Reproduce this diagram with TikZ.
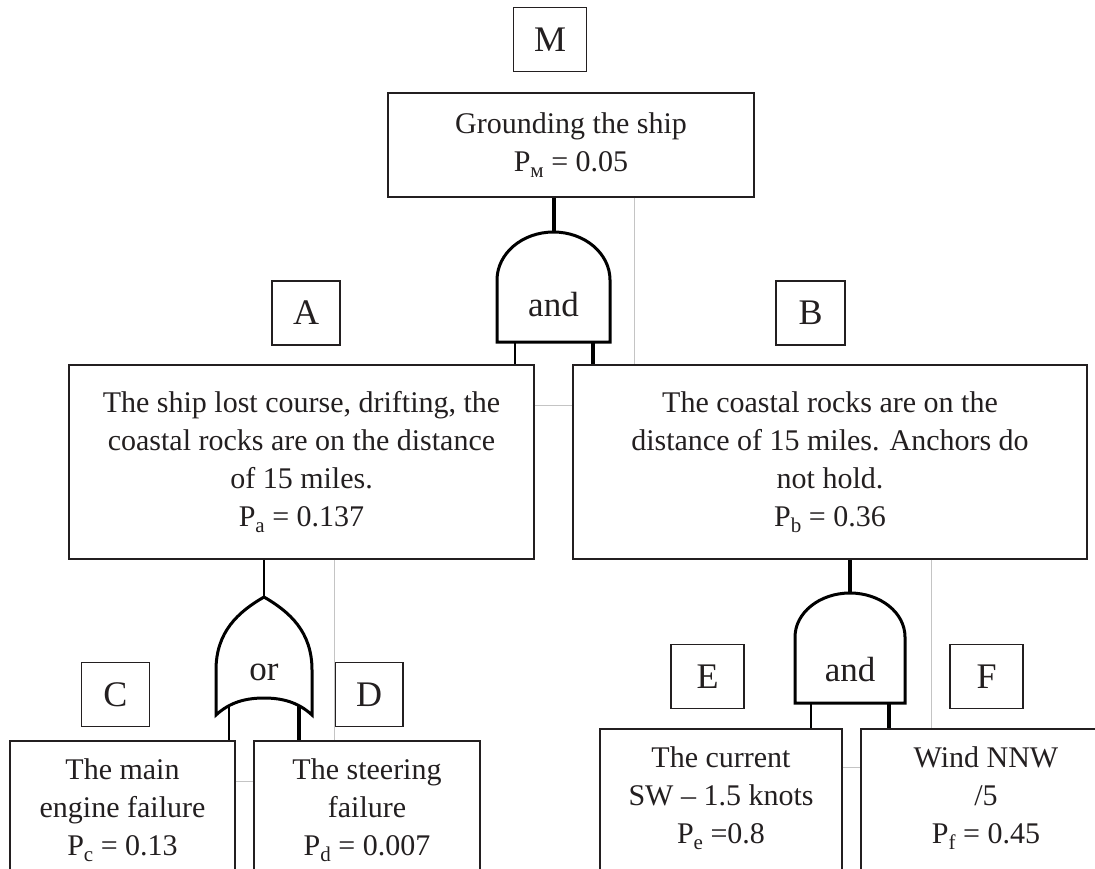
\documentclass[tikz,border=0pt]{standalone}
\usepackage{fontspec}
\setmainfont{Liberation Serif}
\usetikzlibrary{positioning}
\definecolor{inkgray}{HTML}{231F20}
\definecolor{linkgray}{HTML}{C4C4C4}
\newcommand{\evsub}[1]{\raisebox{-0.22em}{\fontsize{10.5}{12}\selectfont #1}}

\begin{document}
\begin{tikzpicture}[x=0.5pt, y=-0.5pt,
  every node/.style={text=inkgray, font=\fontsize{15}{19}\selectfont},
  tag/.style={draw=inkgray, line width=0.75pt, minimum width=#1, minimum height=32pt, inner sep=0pt, font=\fontsize{18}{20}\selectfont},
  event/.style={draw=inkgray, line width=0.75pt, inner sep=0pt, align=center},
  evtext/.style={inner sep=0pt, align=center},
  gatelabel/.style={font=\fontsize{17.5}{20}\selectfont, inner sep=0pt},
  gate/.style={draw=black, line width=1.5pt},
  stem/.style={draw=black, line width=2pt},
  leg/.style={draw=black, line width=0.75pt},
  link/.style={draw=linkgray, line width=0.5pt}]
\useasboundingbox (0,0) rectangle (1095,868);
\clip (0,0) rectangle (1095,868);

\node[tag=36.5pt] (tagM) at (550,39.5) {M};
\node[event, minimum width=183pt, minimum height=52pt] (evM) at (571,145) {Grounding the ship\\P\evsub{м} = 0.05};

\node[tag=34pt] (tagA) at (306,313) {A};
\node[tag=34.5pt] (tagB) at (810.5,313) {B};
\node[event, minimum width=232.5pt, minimum height=97pt] (evA) at (301.5,462)
  {The ship lost course, drifting, the\\coastal rocks are on the distance\\of 15 miles.\\P\evsub{a} = 0.137};
\node[event, minimum width=257pt, minimum height=97pt] (evB) at (830,462)
  {The coastal rocks are on the\\distance of 15 miles. Anchors do\\not hold.\\P\evsub{b} = 0.36};

\node[tag=34pt] (tagC) at (115.5,694.5) {C};
\node[tag=34pt] (tagD) at (369,694.5) {D};
\node[tag=36.5pt] (tagE) at (707.5,676.5) {E};
\node[tag=36.5pt] (tagF) at (986.5,676.5) {F};

\node[event, minimum width=112.5pt, minimum height=80pt, anchor=north] (evC) at (122.5,740) {};
\node[event, minimum width=113pt, minimum height=80pt, anchor=north] (evD) at (367,740) {};
\node[event, minimum width=121pt, minimum height=80pt, anchor=north] (evE) at (721,728) {};
\node[event, minimum width=125pt, minimum height=80pt, anchor=north] (evF) at (986,728) {};
\node[evtext, below=9pt of evC.north] (txC) {The main\\engine failure\\P\evsub{c} = 0.13};
\node[evtext, below=9pt of evD.north] (txD) {The steering\\failure\\P\evsub{d} = 0.007};
\node[evtext, below=9pt of evE.north] (txE) {The current\\SW -- 1.5 knots\\P\evsub{e} =0.8};
\node[evtext, below=9pt of evF.north] (txF) {Wind NNW\\/5\\P\evsub{f} = 0.45};

\coordinate (g1) at (553.5,232);
\coordinate (g1l) at (515,342);
\coordinate (g1r) at (593,342);
\draw[gate] (497,342) -- (497,280) arc[start angle=180, end angle=0, x radius=28.25pt, y radius=24pt] -- (610,342) -- cycle;
\node[gatelabel] (andM) at (553.5,305) {and};
\draw[stem] (evM.south -| g1) -- (g1);
\draw[leg] (g1l) -- (evA.north -| g1l);
\draw[stem] (g1r) -- (evB.north -| g1r);

\coordinate (g2) at (264,597);
\coordinate (g2l) at (229,706);
\coordinate (g2r) at (299,706);
\draw[gate] (216,715) -- (216,670) .. controls (216,632) and (238,612) .. (264,597)
  .. controls (290,612) and (312,632) .. (312,670) -- (312,715)
  .. controls (298,702) and (282,698) .. (264,698) .. controls (246,698) and (230,702) .. (216,715) -- cycle;
\node[gatelabel] (orA) at (264,672) {or};
\draw[leg] (evA.south -| g2) -- (g2);
\draw[leg] (g2l) -- (evC.north -| g2l);
\draw[stem] (g2r) -- (evD.north -| g2r);

\coordinate (g3) at (850,593);
\coordinate (g3l) at (811,703);
\coordinate (g3r) at (889,703);
\draw[gate] (795,703) -- (795,637) arc[start angle=180, end angle=0, x radius=27.5pt, y radius=22pt] -- (905,703) -- cycle;
\node[gatelabel] (andB) at (850,670) {and};
\draw[stem] (evB.south -| g3) -- (g3);
\draw[leg] (g3l) -- (evE.north -| g3l);
\draw[stem] (g3r) -- (evF.north -| g3r);

\coordinate (k1) at (634,0);
\coordinate (k2) at (334,0);
\coordinate (k3) at (931,0);
\draw[link] (evM.south -| k1) -- (evB.north -| k1);
\draw[link] ([yshift=-20.5pt]evA.north east) -- ([yshift=-20.5pt]evB.north west);
\draw[link] (evA.south -| k2) -- (evD.north -| k2);
\draw[link] ([yshift=-20.5pt]evC.north east) -- ([yshift=-20.5pt]evD.north west);
\draw[link] (evB.south -| k3) -- (evF.north -| k3);
\draw[link] ([yshift=-19.5pt]evE.north east) -- ([yshift=-19.5pt]evF.north west);
\end{tikzpicture}
\end{document}
